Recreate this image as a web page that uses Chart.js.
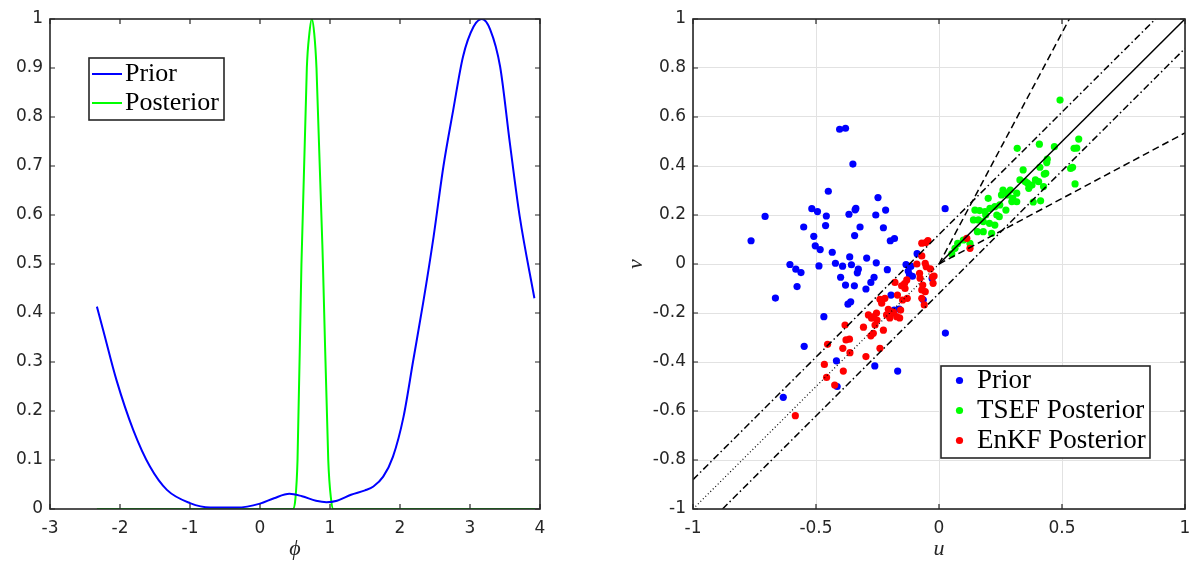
<!DOCTYPE html>
<html>
<head>
<meta charset="utf-8">
<script src="https://cdn.jsdelivr.net/npm/chart.js@4.4.1/dist/chart.umd.min.js"></script>
<style>
  html, body { margin: 0; padding: 0; background: #fff; }
  #wrap { position: relative; width: 1200px; height: 579px; }
  canvas { position: absolute; top: 0; }
  #left { left: 0; }
  #right { left: 600px; }
</style>
</head>
<body>
<div id="wrap">
  <canvas id="left" width="600" height="579"></canvas>
  <canvas id="right" width="600" height="579"></canvas>
</div>
<script>
// left panel: densities over phi
const phiTicks = [-3, -2, -1, 0, 1, 2, 3, 4]
const densTicks = [0, 0.1, 0.2, 0.3, 0.4, 0.5, 0.6, 0.7, 0.8, 0.9, 1]

const priorCurve = [
    [-2.33, 0.413], [-2.24, 0.365], [-2.05, 0.263], [-1.81, 0.161], [-1.57, 0.086],
    [-1.33, 0.039], [-1.0, 0.012], [-0.71, 0.003], [-0.33, 0.003], [0, 0.011],
    [0.2, 0.022], [0.42, 0.031], [0.6, 0.026], [0.8, 0.017], [0.95, 0.014],
    [1.1, 0.017], [1.3, 0.029], [1.5, 0.038], [1.62, 0.046], [1.76, 0.066],
    [1.9, 0.107], [2.05, 0.188], [2.19, 0.304], [2.33, 0.42], [2.48, 0.556],
    [2.62, 0.699], [2.76, 0.814], [2.9, 0.923], [3.05, 0.984], [3.17, 1.0],
    [3.29, 0.978], [3.43, 0.903], [3.57, 0.746], [3.71, 0.597], [3.92, 0.43],
]
const posteriorCurve = [
    [-2.33, 0], [0.47, 0], [0.505, 0.02], [0.536, 0.1], [0.592, 0.5], [0.669, 0.9],
    [0.705, 0.97], [0.74, 1], [0.775, 0.97], [0.807, 0.9], [0.899, 0.5],
    [0.975, 0.1], [1.015, 0.02], [1.047, 0], [3.93, 0],
]

// right panel: ensembles in (u, v)
const uvTicksX = [-1, -0.5, 0, 0.5, 1]
const uvTicksY = [-1, -0.8, -0.6, -0.4, -0.2, 0, 0.2, 0.4, 0.6, 0.8, 1]

const priorPts = [
    [-0.764, 0.095], [-0.707, 0.194], [-0.665, -0.139], [-0.633, -0.544], [-0.606, -0.002],
    [-0.582, -0.021], [-0.577, -0.092], [-0.561, -0.035], [-0.55, 0.151], [-0.548, -0.336],
    [-0.517, 0.226], [-0.509, 0.113], [-0.503, 0.074], [-0.494, 0.214], [-0.488, -0.008],
    [-0.483, 0.059], [-0.468, -0.215], [-0.461, 0.157], [-0.458, 0.196], [-0.45, 0.297],
    [-0.434, 0.048], [-0.421, 0.003], [-0.417, -0.395], [-0.414, -0.5], [-0.404, 0.55],
    [-0.4, -0.054], [-0.392, -0.009], [-0.38, 0.554], [-0.38, -0.086], [-0.37, -0.164],
    [-0.366, 0.203], [-0.363, 0.029], [-0.359, -0.154], [-0.356, -0.003], [-0.35, 0.408],
    [-0.344, -0.089], [-0.343, 0.116], [-0.341, 0.221], [-0.338, 0.227], [-0.332, -0.036],
    [-0.328, -0.021], [-0.321, 0.151], [-0.297, -0.102], [-0.294, 0.024], [-0.277, -0.075],
    [-0.264, -0.054], [-0.261, -0.416], [-0.255, 0.005], [-0.257, 0.2], [-0.248, 0.271],
    [-0.226, 0.148], [-0.217, 0.22], [-0.21, -0.023], [-0.198, 0.095], [-0.195, -0.127],
    [-0.181, 0.104], [-0.168, -0.437], [-0.162, -0.184], [-0.182, -0.188], [-0.134, -0.002],
    [-0.125, -0.029], [-0.12, -0.044], [-0.114, -0.009], [-0.108, -0.05], [-0.089, 0.042],
    [-0.064, -0.146], [-0.028, -0.059], [0.025, 0.226], [0.026, -0.282],
]
const tsefPts = [
    [0.492, 0.669], [0.568, 0.51], [0.549, 0.472], [0.543, 0.395], [0.535, 0.39],
    [0.553, 0.327], [0.469, 0.479], [0.408, 0.489], [0.438, 0.414], [0.41, 0.395],
    [0.428, 0.367], [0.405, 0.336], [0.425, 0.316], [0.392, 0.343], [0.378, 0.322],
    [0.365, 0.309], [0.351, 0.336], [0.342, 0.384], [0.318, 0.472], [0.413, 0.258],
    [0.383, 0.253], [0.316, 0.289], [0.316, 0.254], [0.3, 0.268], [0.28, 0.282],
    [0.26, 0.302], [0.254, 0.282], [0.272, 0.22], [0.247, 0.241], [0.227, 0.234],
    [0.207, 0.227], [0.2, 0.268], [0.245, 0.193], [0.227, 0.159], [0.205, 0.166],
    [0.187, 0.214], [0.18, 0.173], [0.214, 0.125], [0.18, 0.132], [0.156, 0.132],
    [0.16, 0.18], [0.146, 0.22], [0.14, 0.18], [0.076, 0.084], [0.126, 0.084],
    [0.099, 0.098], [0.052, 0.041], [0.065, 0.064], [0.29, 0.302], [0.329, 0.343],
    [0.56, 0.473], [0.434, 0.37], [0.44, 0.428], [0.296, 0.255], [0.165, 0.218],
    [0.27, 0.29], [0.36, 0.33], [0.235, 0.2], [0.19, 0.2],
]
const enkfPts = [
    [-0.054, 0.087], [-0.045, 0.096], [-0.07, 0.033], [-0.056, 0.003], [-0.052, -0.011],
    [-0.079, -0.038], [-0.077, -0.058], [-0.026, -0.052], [-0.024, -0.079], [-0.066, -0.086],
    [-0.07, -0.106], [-0.06, -0.167], [-0.07, -0.14], [-0.179, -0.075], [-0.152, -0.089],
    [-0.138, -0.1], [-0.131, -0.065], [-0.169, -0.127], [-0.148, -0.147], [-0.129, -0.14],
    [-0.24, -0.144], [-0.22, -0.14], [-0.233, -0.16], [-0.206, -0.185], [-0.186, -0.195],
    [-0.156, -0.188], [-0.172, -0.215], [-0.16, -0.22], [-0.213, -0.208], [-0.254, -0.2],
    [-0.252, -0.229], [-0.287, -0.208], [-0.274, -0.221], [-0.26, -0.249], [-0.226, -0.27],
    [-0.267, -0.283], [-0.277, -0.293], [-0.307, -0.258], [-0.382, -0.249], [-0.378, -0.31],
    [-0.364, -0.307], [-0.391, -0.344], [-0.453, -0.328], [-0.362, -0.362], [-0.297, -0.378],
    [-0.24, -0.344], [-0.466, -0.41], [-0.389, -0.437], [-0.457, -0.463], [-0.424, -0.494],
    [-0.584, -0.619], [-0.056, -0.113], [0.113, 0.105], [0.126, 0.064], [-0.02, -0.049],
    [-0.07, 0.085], [-0.09, 0.0], [-0.2, -0.22], [-0.265, -0.215], [-0.185, -0.2],
    [-0.14, -0.08], [-0.035, -0.02],
]

// reference lines (endpoints in data units)
const diagDotted = [[-1, -1], [0, 0]]
const diagSolid = [[0, 0], [1, 1]]
const bandUpper = [[-1, -0.88], [0.88, 1]]
const bandLower = [[-0.88, -1], [1, 0.88]]
const rayUpper = [[0, 0], [0.53, 1]]
const rayLower = [[0, 0], [1, 0.535]]

const toXY = arr => arr.map(([x, y]) => ({ x, y }))
const fmt = v => String(+v.toFixed(2))

Chart.defaults.font.family = "'DejaVu Sans', sans-serif"
Chart.defaults.font.size = 17
Chart.defaults.color = "#262626"

// MATLAB-like box with inward ticks on all four sides
const axesBox = {
    id: "axesBox",
    afterDatasetsDraw(chart) {
        const { ctx, chartArea: a, scales: { x, y } } = chart
        const tl = 5
        ctx.save()
        ctx.strokeStyle = "#262626"
        ctx.lineWidth = 1.2
        ctx.beginPath()
        x.ticks.forEach(t => {
            const px = x.getPixelForValue(t.value)
            ctx.moveTo(px, a.bottom); ctx.lineTo(px, a.bottom - tl)
            ctx.moveTo(px, a.top); ctx.lineTo(px, a.top + tl)
        })
        y.ticks.forEach(t => {
            const py = y.getPixelForValue(t.value)
            ctx.moveTo(a.left, py); ctx.lineTo(a.left + tl, py)
            ctx.moveTo(a.right, py); ctx.lineTo(a.right - tl, py)
        })
        ctx.stroke()
        ctx.lineWidth = 1.6
        ctx.strokeRect(a.left, a.top, a.right - a.left, a.bottom - a.top)
        ctx.restore()
    },
}

// boxed legend sitting inside the axes
const boxLegend = {
    id: "boxLegend",
    afterDraw(chart, args, o) {
        const { ctx, chartArea: a } = chart
        const items = chart.data.datasets.filter(d => d.label)
        const x = a.left + o.left
        const y = a.top + o.top
        ctx.save()
        ctx.fillStyle = "#fff"
        ctx.fillRect(x, y, o.width, o.height)
        ctx.strokeStyle = "#262626"
        ctx.lineWidth = 1.6
        ctx.strokeRect(x, y, o.width, o.height)
        ctx.font = o.size + "px 'Liberation Serif', serif"
        ctx.textBaseline = "middle"
        items.forEach((d, i) => {
            const cy = y + o.first + i * o.step
            if (o.marker === "line") {
                ctx.strokeStyle = d.borderColor
                ctx.lineWidth = 2
                ctx.beginPath()
                ctx.moveTo(x + 3, cy); ctx.lineTo(x + 33, cy)
                ctx.stroke()
            } else {
                ctx.fillStyle = d.backgroundColor
                ctx.beginPath()
                ctx.arc(x + 18.5, cy, 3.6, 0, Math.PI * 2)
                ctx.fill()
            }
            ctx.fillStyle = "#000"
            ctx.fillText(d.label, x + o.textX, cy)
        })
        ctx.restore()
    },
}

const titleFont = { family: "'Liberation Serif', serif", size: 22, style: "italic" }

function axis(min, max, ticks, opts) {
    return {
        type: "linear",
        min, max,
        afterBuildTicks: s => { s.ticks = ticks.map(value => ({ value })) },
        ticks: { callback: fmt, padding: opts.pad, autoSkip: false, maxRotation: 0 },
        grid: opts.grid ? { color: "#e2e2e2", lineWidth: 1, drawTicks: false } : { display: false, drawTicks: false },
        border: { display: false },
        title: { display: !!opts.title, text: opts.title, font: titleFont, color: "#262626" },
        afterFit: s => {
            if (opts.width) s.width = opts.width
            if (opts.height) s.height = opts.height
        },
    }
}

const common = {
    responsive: false,
    animation: false,
    events: [],
    plugins: { legend: { display: false }, tooltip: { enabled: false } },
}

new Chart(document.getElementById("left"), {
    type: "line",
    data: {
        datasets: [
            {
                label: "Prior",
                data: toXY(priorCurve),
                borderColor: "#0000ff",
                borderWidth: 2,
                pointRadius: 0,
                cubicInterpolationMode: "monotone",
            },
            {
                label: "Posterior",
                data: toXY(posteriorCurve),
                borderColor: "#00ff00",
                borderWidth: 2,
                pointRadius: 0,
                cubicInterpolationMode: "monotone",
            },
        ],
    },
    options: {
        ...common,
        layout: { padding: { top: 19, right: 60, bottom: 13, left: 0 } },
        scales: {
            x: axis(-3, 4, phiTicks, { title: "\u03d5", pad: 9, height: 57 }),
            y: axis(0, 1, densTicks, { title: "", pad: 7, width: 50 }),
        },
        plugins: {
            ...common.plugins,
            boxLegend: { marker: "line", left: 39, top: 39, width: 135, height: 62, first: 16, step: 29, textX: 36, size: 26 },
        },
    },
    plugins: [axesBox, boxLegend],
})

const refLine = (pts, dash, width) => ({
    data: toXY(pts),
    showLine: true,
    borderColor: "#000",
    borderWidth: width,
    borderDash: dash,
    pointRadius: 0,
    order: 0,
})

const dot = (label, pts, color, order) => ({
    label,
    data: toXY(pts),
    backgroundColor: color,
    borderWidth: 0,
    pointRadius: 3.6,
    order,
})

new Chart(document.getElementById("right"), {
    type: "scatter",
    data: {
        datasets: [
            dot("Prior", priorPts, "#0000ff", 3),
            dot("TSEF Posterior", tsefPts, "#00ff00", 2),
            dot("EnKF Posterior", enkfPts, "#ff0000", 1),
            refLine(diagDotted, [1, 2.5], 1.2),
            refLine(diagSolid, [], 1.5),
            refLine(bandUpper, [7, 3, 1.5, 3], 1.5),
            refLine(bandLower, [7, 3, 1.5, 3], 1.5),
            refLine(rayUpper, [7, 4], 1.5),
            refLine(rayLower, [7, 4], 1.5),
        ],
    },
    options: {
        ...common,
        layout: { padding: { top: 19, right: 15, bottom: 13, left: 19 } },
        scales: {
            x: axis(-1, 1, uvTicksX, { title: "u", pad: 9, height: 57, grid: true }),
            y: axis(-1, 1, uvTicksY, { title: "v", pad: 7, width: 74, grid: true }),
        },
        plugins: {
            ...common.plugins,
            boxLegend: { marker: "dot", left: 248, top: 347, width: 209, height: 92, first: 14.5, step: 30, textX: 36, size: 27 },
        },
    },
    plugins: [axesBox, boxLegend],
})
</script>
</body>
</html>
